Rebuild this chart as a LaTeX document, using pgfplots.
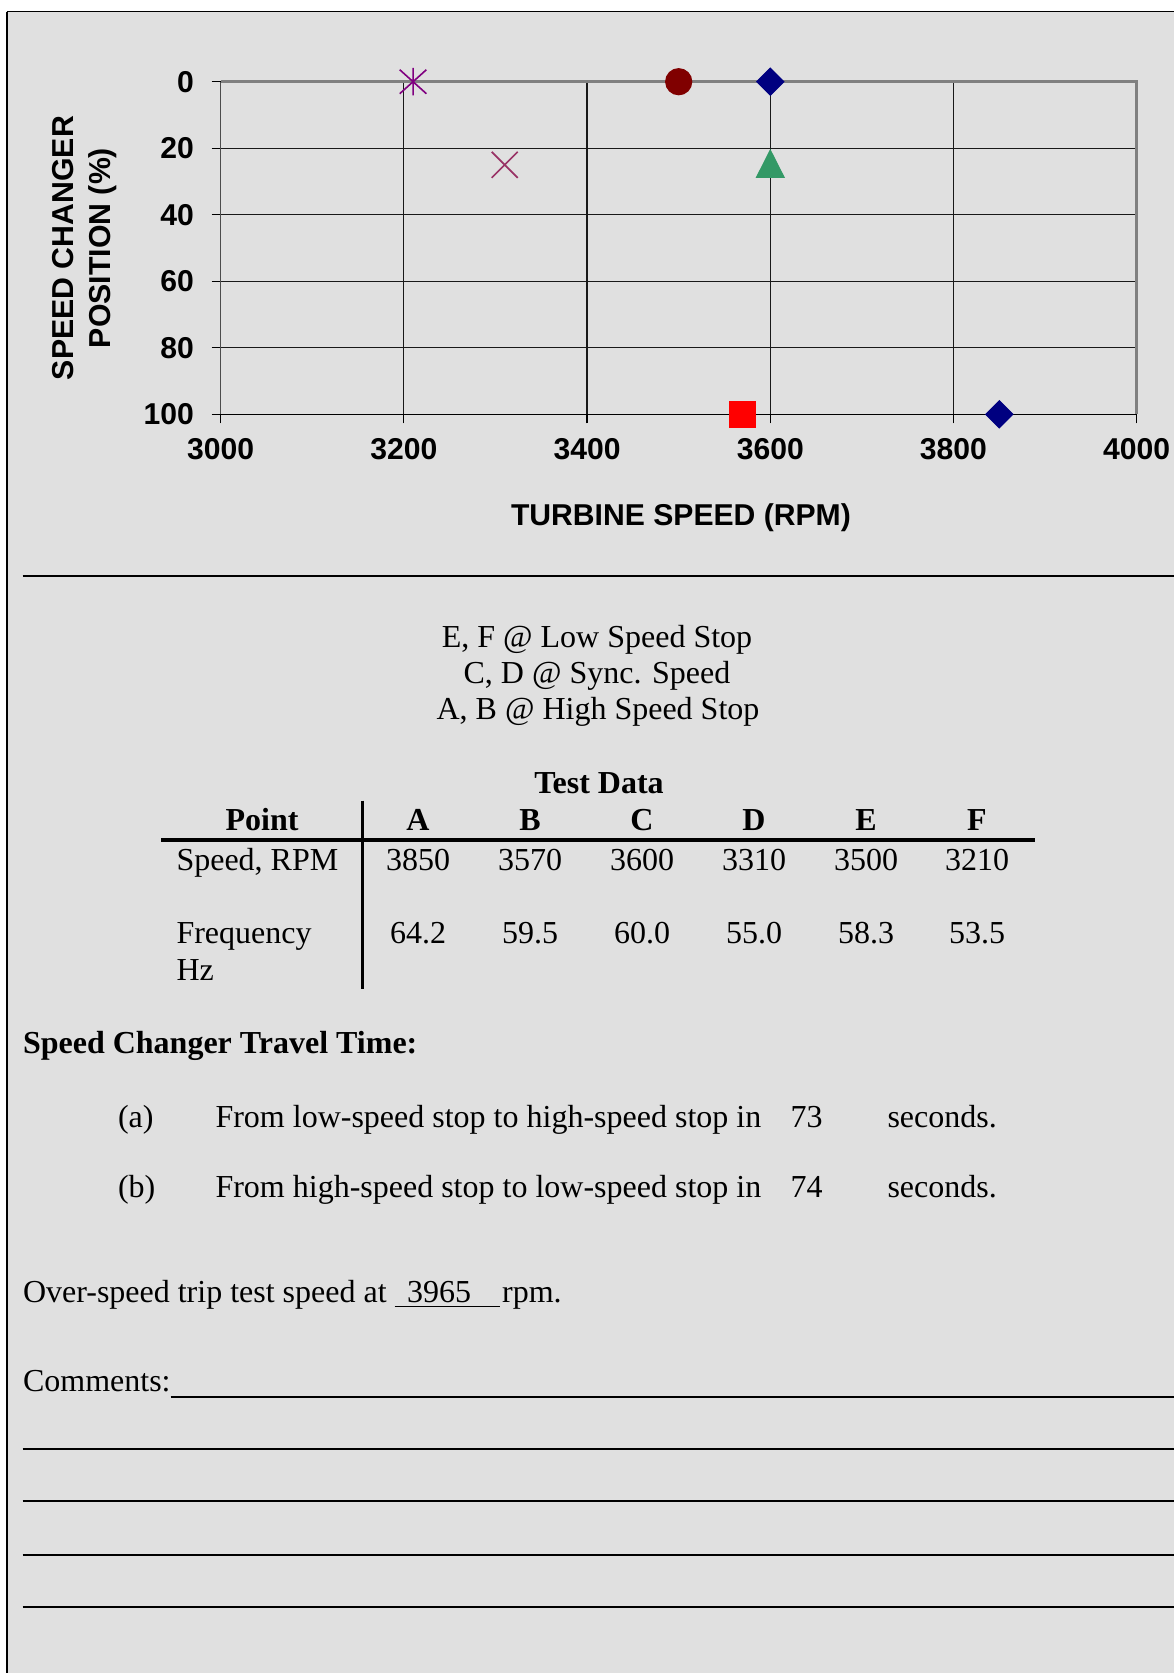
\documentclass[border=0pt]{standalone}
\usepackage{fontspec}
\setmainfont{Liberation Serif}
\newfontfamily\arial{Liberation Sans}
\usepackage{pgfplots}
\pgfplotsset{compat=1.18}
\definecolor{pagegray}{RGB}{224,224,224}
\definecolor{xpurple}{RGB}{128,0,128}
\definecolor{xplum}{RGB}{153,51,102}
\definecolor{xmaroon}{RGB}{128,0,0}
\definecolor{xnavy}{RGB}{0,0,128}
\definecolor{xgreen}{RGB}{51,153,102}
\definecolor{framegray}{RGB}{128,128,128}
\pgfdeclareplotmark{xstar}{%
  \pgfpathmoveto{\pgfqpoint{-\pgfplotmarksize}{-0.9\pgfplotmarksize}}%
  \pgfpathlineto{\pgfqpoint{\pgfplotmarksize}{0.9\pgfplotmarksize}}%
  \pgfpathmoveto{\pgfqpoint{-\pgfplotmarksize}{0.9\pgfplotmarksize}}%
  \pgfpathlineto{\pgfqpoint{\pgfplotmarksize}{-0.9\pgfplotmarksize}}%
  \pgfpathmoveto{\pgfqpoint{0pt}{-1.03\pgfplotmarksize}}%
  \pgfpathlineto{\pgfqpoint{0pt}{1.03\pgfplotmarksize}}%
  \pgfusepathqstroke}
\newcommand\tf{\fontsize{12}{14.4}\selectfont}
\newcommand\af{\arial\bfseries\fontsize{11.3}{13.6}\selectfont}
\begin{document}
\begin{tikzpicture}
\useasboundingbox (0,0) rectangle (440.25pt,-627.375pt);
\fill[white] (0,0) rectangle (440.25pt,-627.375pt);
\begin{scope}[x=0.375pt,y=-0.375pt]
\fill[pagegray] (6.7,11.7) rectangle (1174,1673);
\draw[line width=0.4pt] (6.7,11.7) -- (1174,11.7);
\draw[line width=0.7pt] (6.7,11.7) -- (6.7,1673);
% rule under chart
\draw[line width=0.85pt] (22.5,576) -- (1174,576);
% centered notes
\node[anchor=base, inner sep=0, font=\tf] at (597,647.3) {E, F @ Low Speed Stop};
\node[anchor=base, inner sep=0, font=\tf] at (597,683.3) {C, D @ Sync. Speed};
\node[anchor=base, inner sep=0, font=\tf] at (598,719.3) {A, B @ High Speed Stop};
% table
\node[anchor=base, inner sep=0, font=\tf\bfseries] at (599,793.3) {Test Data};
\node[anchor=base, inner sep=0, font=\tf\bfseries] at (262,830) {Point};
\foreach \c/\xx in {A/418,B/530,C/642,D/754,E/866,F/977}
  \node[anchor=base, inner sep=0, font=\tf\bfseries] at (\xx,830) {\c};
\draw[line width=1.2pt] (161,840) -- (1035,840);
\draw[line width=1pt] (362.4,800.7) -- (362.4,989);
\node[anchor=base west, inner sep=0, font=\tf] at (176,870) {Speed, RPM};
\foreach \v/\xx in {3850/418,3570/530,3600/642,3310/754,3500/866,3210/977}
  \node[anchor=base, inner sep=0, font=\tf] at (\xx,870) {\v};
\node[anchor=base west, inner sep=0, font=\tf] at (176,943) {Frequency};
\node[anchor=base west, inner sep=0, font=\tf] at (176,980) {Hz};
\foreach \v/\xx in {64.2/418,59.5/530,60.0/642,55.0/754,58.3/866,53.5/977}
  \node[anchor=base, inner sep=0, font=\tf] at (\xx,943) {\v};
% travel time
\node[anchor=base west, inner sep=0, font=\tf\bfseries] at (22.5,1053.6) {Speed Changer Travel Time:};
\node[anchor=base west, inner sep=0, font=\tf] at (117.5,1127.5) {(a)};
\node[anchor=base west, inner sep=0, font=\tf] at (215,1127.5) {From low-speed stop to high-speed stop in};
\node[anchor=base west, inner sep=0, font=\tf] at (790,1127.5) {73};
\node[anchor=base west, inner sep=0, font=\tf] at (887,1127.5) {seconds.};
\node[anchor=base west, inner sep=0, font=\tf] at (117.5,1197.4) {(b)};
\node[anchor=base west, inner sep=0, font=\tf] at (215,1197.4) {From high-speed stop to low-speed stop in};
\node[anchor=base west, inner sep=0, font=\tf] at (790,1197.4) {74};
\node[anchor=base west, inner sep=0, font=\tf] at (887,1197.4) {seconds.};
% overspeed
\node[anchor=base west, inner sep=0, font=\tf] at (22.5,1302.6) {Over-speed trip test speed at};
\node[anchor=base west, inner sep=0, font=\tf] at (406.6,1302.6) {3965};
\draw[line width=0.45pt] (394.6,1306.4) -- (500,1306.4);
\node[anchor=base west, inner sep=0, font=\tf] at (501.6,1302.6) {rpm.};
% comments
\node[anchor=base west, inner sep=0, font=\tf] at (22.5,1391.4) {Comments:};
\draw[line width=0.7pt] (170.7,1397) -- (1174,1397);
\foreach \yy in {1449.4,1501.3,1555,1607.3}
  \draw[line width=0.7pt] (22.5,\yy) -- (1174,\yy);
\end{scope}
\begin{axis}[
  at={(82.76pt,-30.64pt)}, anchor=north west,
  scale only axis, width=343.5pt, height=124.73pt,
  xmin=3000, xmax=4000, ymin=0, ymax=100, y dir=reverse,
  xtick={3000,3200,3400,3600,3800,4000},
  ytick={0,20,40,60,80,100},
  grid=major,
  major grid style={draw=black!90, line width=0.45pt},
  axis line style={draw=none},
  tick align=outside,
  major tick length=3.4pt,
  tick style={draw=black, line width=0.45pt},
  xtick pos=bottom, ytick pos=left,
  /pgf/number format/assume math mode=true,
  /pgf/number format/1000 sep={},
  tick label style={font=\af},
  yticklabel style={xshift=-3.1pt},
  xticklabel style={yshift=-2.1pt},
  xlabel={TURBINE SPEED (RPM)},
  xlabel style={font=\af, at={(axis description cs:0.5025,-0.3328)}, anchor=base},
  ylabel={SPEED CHANGER\\POSITION (\%)},
  ylabel style={font=\arial\bfseries\fontsize{11.35}{13.65}\selectfont, align=center, at={(axis description cs:-0.1484,0.5)}, anchor=center, rotate=0},
  clip=false,
]
\draw[framegray, line width=1pt] (axis cs:3000,0) -- (axis cs:4000,0) -- (axis cs:4000,100);
\draw[black!70, line width=0.55pt] (axis cs:3000,0) -- (axis cs:3000,100);
\draw[black, line width=0.5pt] (axis cs:3000,100) -- (axis cs:4000,100);
% F
\addplot[only marks, mark=xstar, mark size=5pt, draw=xpurple, line width=0.6pt] coordinates {(3210,0)};
% D
\addplot[only marks, mark=x, mark size=6.9pt, draw=xplum, line width=0.65pt] coordinates {(3310,25)};
% E
\addplot[only marks, mark=*, mark size=4.9pt, draw=xmaroon, fill=xmaroon] coordinates {(3500,0)};
% diamonds
\addplot[only marks, mark=square*, mark size=3.6pt, mark options={rotate=45}, draw=xnavy, fill=xnavy] coordinates {(3600,0) (3850,100)};
% C
\addplot[only marks, mark=triangle*, mark size=6pt, mark options={yshift=-1.3pt, yscale=1.14}, draw=xgreen, fill=xgreen] coordinates {(3600,25)};
% B
\addplot[only marks, mark=square*, mark size=4.8pt, draw=red, fill=red] coordinates {(3570,100)};
\end{axis}
\end{tikzpicture}
\end{document}
